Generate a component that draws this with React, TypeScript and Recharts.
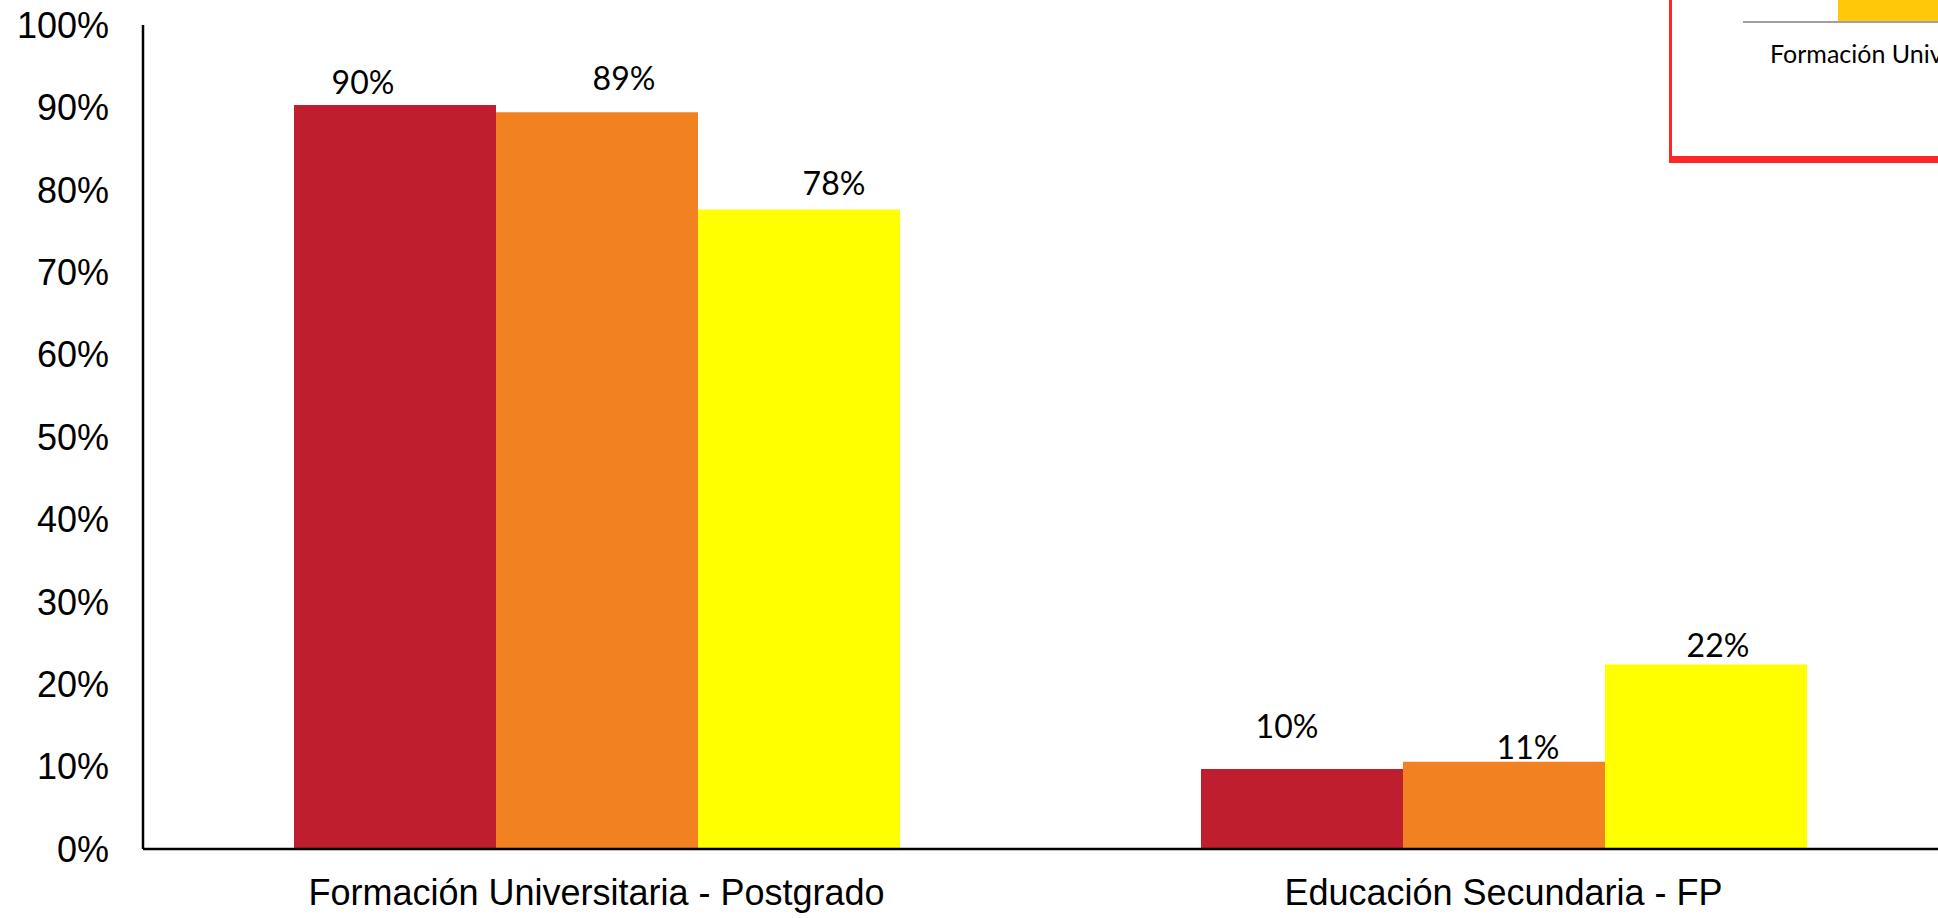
import React from 'react';
import { BarChart, Bar, XAxis, YAxis, LabelList } from 'recharts';

// categories and the three series (shares in %, each category sums to ~100)
const categories = ['Formación Universitaria - Postgrado', 'Educación Secundaria - FP'];
const serieRoja = [90.3, 9.7];
const serieNaranja = [89.4, 10.6];
const serieAmarilla = [77.6, 22.4];
const yTicks = [0, 10, 20, 30, 40, 50, 60, 70, 80, 90, 100];

// hand-placed label nudges (dx, dy from top centre of bar), like the original
const labelNudges: Record<string, [number, number][]> = {
    s1: [[-32, -11], [-15, -31]],
    s2: [[27, -22], [24, -3]],
    s3: [[35, -15], [12, -7]],
};

const data = categories.map((name, i) => ({
    name,
    s1: serieRoja[i],
    s2: serieNaranja[i],
    s3: serieAmarilla[i],
}));

const labelFont = 'Lato, "Open Sans", sans-serif';
const axisFont = '"Liberation Sans", Arial, sans-serif';

const makeLabel = (key: string) => (props: any) => {
    const { x, y, width, value, index } = props;
    const [dx, dy] = labelNudges[key][index] || [0, -8];
    return (
        <text
            x={Number(x) + Number(width) / 2 + dx}
            y={Number(y) + dy}
            textAnchor="middle"
            fontSize={32}
            fontFamily={labelFont}
            fill="#000"
        >
            {`${Math.round(Number(value))}%`}
        </text>
    );
};

export default function App() {
    return (
        <div
            style={{
                position: 'fixed',
                left: 0,
                top: 0,
                width: 1938,
                height: 918,
                overflow: 'hidden',
                background: '#fff',
            }}
        >
            <BarChart
                width={2000}
                height={918}
                data={data}
                margin={{ top: 25, right: 43, left: 0, bottom: 0 }}
                barCategoryGap={151}
                barGap={0}
            >
                <XAxis
                    dataKey="name"
                    interval={0}
                    height={69}
                    tickLine={false}
                    tickSize={0}
                    tickMargin={30}
                    axisLine={{ stroke: '#000', strokeWidth: 2.5 }}
                    tick={{ fontSize: 36, fill: '#000', fontFamily: axisFont }}
                />
                <YAxis
                    domain={[0, 100]}
                    ticks={yTicks}
                    width={143}
                    tickLine={false}
                    tickSize={0}
                    tickMargin={34}
                    tickFormatter={(v) => `${v}%`}
                    axisLine={{ stroke: '#000', strokeWidth: 2.5 }}
                    tick={{ fontSize: 36, fill: '#000', fontFamily: axisFont }}
                />
                <Bar dataKey="s1" name="Serie 1" fill="#BE1E2D" isAnimationActive={false}>
                    <LabelList dataKey="s1" content={makeLabel('s1')} />
                </Bar>
                <Bar dataKey="s2" name="Serie 2" fill="#F28122" isAnimationActive={false}>
                    <LabelList dataKey="s2" content={makeLabel('s2')} />
                </Bar>
                <Bar dataKey="s3" name="Serie 3" fill="#FFFF00" isAnimationActive={false}>
                    <LabelList dataKey="s3" content={makeLabel('s3')} />
                </Bar>
            </BarChart>

            {/* cut-off legend panel in the top right corner */}
            <div
                style={{
                    position: 'absolute',
                    left: 1669,
                    top: -20,
                    width: 400,
                    height: 183,
                    boxSizing: 'border-box',
                    borderLeft: '3px solid #FF2626',
                    borderBottom: '7px solid #FF2626',
                    background: '#fff',
                }}
            />
            <div style={{ position: 'absolute', left: 1838, top: 0, width: 200, height: 21, background: '#FFC90A' }} />
            <div style={{ position: 'absolute', left: 1743, top: 21, width: 300, height: 2, background: '#A0A0A0' }} />
            <div
                style={{
                    position: 'absolute',
                    left: 1770,
                    top: 38,
                    fontSize: 25,
                    lineHeight: 'normal',
                    fontFamily: labelFont,
                    whiteSpace: 'nowrap',
                    color: '#000',
                }}
            >
                Formación Universitaria - Postgrado
            </div>
        </div>
    );
}
